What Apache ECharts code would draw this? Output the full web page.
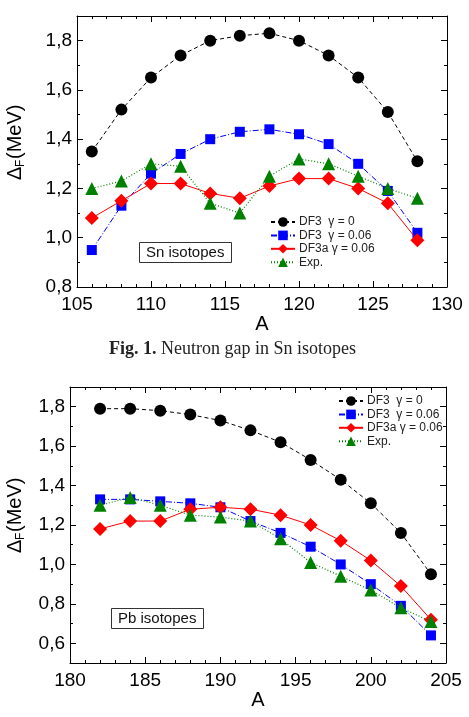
<!DOCTYPE html>
<html>
<head>
<meta charset="utf-8">
<script src="https://cdn.jsdelivr.net/npm/echarts@6/dist/echarts.min.js"></script>
<style>html,body{margin:0;padding:0;background:#fff}#c{width:469px;height:717px}</style>
</head>
<body>
<div id="c"></div>
<script>
// ---- data ----
const seriesNames = ['DF3  γ = 0', 'DF3  γ = 0.06', 'DF3a γ = 0.06', 'Exp.'];

const snA = [106, 108, 110, 112, 114, 116, 118, 120, 122, 124, 126, 128];
const snDF3g0   = [1.35, 1.52, 1.65, 1.74, 1.80, 1.82, 1.83, 1.80, 1.74, 1.65, 1.51, 1.31];
const snDF3g006 = [0.95, 1.13, 1.26, 1.34, 1.40, 1.43, 1.44, 1.42, 1.38, 1.30, 1.19, 1.02];
const snDF3a    = [1.08, 1.15, 1.22, 1.22, 1.18, 1.16, 1.21, 1.24, 1.24, 1.20, 1.14, 0.99];
const snExp     = [1.20, 1.23, 1.30, 1.29, 1.14, 1.10, 1.25, 1.32, 1.30, 1.25, 1.20, 1.16];

const pbA = [182, 184, 186, 188, 190, 192, 194, 196, 198, 200, 202, 204];
const pbDF3g0   = [1.79, 1.79, 1.78, 1.76, 1.73, 1.68, 1.62, 1.53, 1.43, 1.31, 1.16, 0.95];
const pbDF3g006 = [1.33, 1.33, 1.32, 1.31, 1.29, 1.22, 1.16, 1.09, 1.00, 0.90, 0.79, 0.64];
const pbDF3a    = [1.18, 1.22, 1.22, 1.28, 1.29, 1.28, 1.25, 1.20, 1.12, 1.02, 0.89, 0.72];
const pbExp     = [1.30, 1.34, 1.30, 1.25, 1.24, 1.22, 1.13, 1.01, 0.94, 0.87, 0.78, 0.71];

const snYTicks = [0.8, 1.0, 1.2, 1.4, 1.6, 1.8];
const pbYTicks = [0.6, 0.8, 1.0, 1.2, 1.4, 1.6, 1.8];

// ---- build ----
const FONT = 'Liberation Sans';
const zip = (xs, ys) => xs.map((x, i) => [x, ys[i]]);
const fmt = v => v.toFixed(1).replace('.', ',');

function xAxes(grid, min, max, name) {
  const base = {
    type: 'value', gridIndex: grid, min: min, max: max, interval: 5,
    splitLine: {show: false},
    axisLine: {show: true, onZero: false, lineStyle: {color: '#000', width: 1}},
    axisTick: {show: true, inside: true, length: 6, lineStyle: {color: '#000'}},
    minorTick: {show: true, splitNumber: 5, length: 3, lineStyle: {color: '#000'}}
  };
  return [
    Object.assign({}, base, {
      position: 'bottom', name: name, nameLocation: 'middle', nameGap: 24,
      nameTextStyle: {fontSize: 20, color: '#000', fontFamily: FONT},
      axisLabel: {show: true, fontSize: 19, color: '#000', fontFamily: FONT, margin: 8}
    }),
    Object.assign({}, base, {position: 'top', axisLabel: {show: false}})
  ];
}

function yAxes(grid, min, max, majors) {
  const common = {
    type: 'value', gridIndex: grid, min: min, max: max, interval: 0.1,
    splitLine: {show: false}
  };
  const out = [];
  ['left', 'right'].forEach(pos => {
    out.push(Object.assign({}, common, {
      position: pos,
      axisLine: {show: true, onZero: false, lineStyle: {color: '#000', width: 1}},
      axisTick: {show: true, inside: true, length: 6, customValues: majors, lineStyle: {color: '#000'}},
      axisLabel: pos === 'left'
        ? {show: true, customValues: majors, formatter: fmt, fontSize: 19, color: '#000', fontFamily: FONT, margin: 5}
        : {show: false}
    }));
    out.push(Object.assign({}, common, {
      position: pos,
      axisLine: {show: false},
      axisTick: {show: true, inside: true, length: 3, lineStyle: {color: '#000'}},
      axisLabel: {show: false}
    }));
  });
  return out;
}

const styles = [
  {color: '#000000', symbol: 'circle', size: 12, line: {type: [4, 3], width: 1}},
  {color: '#0000ff', symbol: 'rect', size: 10, line: {type: [6, 2, 1, 2], width: 1}},
  {color: '#ff0000', symbol: 'diamond', size: 14, line: {type: 'solid', width: 1}},
  {color: '#008000', symbol: 'triangle', size: 13, line: {type: [1, 2], width: 1.2}}
];

function makeSeries(grid, xs, ysList) {
  return ysList.map((ys, i) => ({
    type: 'line', name: seriesNames[i],
    xAxisIndex: grid * 2, yAxisIndex: grid * 4,
    data: zip(xs, ys),
    symbol: styles[i].symbol, symbolSize: styles[i].size,
    itemStyle: {color: styles[i].color},
    lineStyle: Object.assign({color: styles[i].color}, styles[i].line),
    animation: false, z: 2 + i
  }));
}

function legend(left, top) {
  return {
    data: seriesNames, orient: 'vertical', left: left, top: top, padding: 0,
    itemWidth: 24, itemHeight: 12, itemGap: 1.4, selectedMode: false,
    textStyle: {fontSize: 12, color: '#222', fontFamily: FONT, padding: [0, 0, 0, -1]}
  };
}

const boxTitle = (text, left, top) => ({
  text: text, left: left, top: top, padding: [3, 7],
  borderColor: '#333', borderWidth: 1,
  textStyle: {fontSize: 15, fontWeight: 'normal', color: '#111', fontFamily: FONT}
});

// rotated y-axis title: "Δ" + subscript "F" + "(MeV)", reading bottom-to-top
function yTitle(cx, cy) {
  const t = (x, y, text, size) => ({
    type: 'text', x: x, y: y,
    style: {text: text, fontSize: size, fontFamily: FONT, fill: '#000', align: 'left', verticalAlign: 'middle'}
  });
  return {
    type: 'group', x: cx, y: cy, rotation: Math.PI / 2, z: 100,
    children: [t(-40, 0, 'Δ', 20), t(-27, 6, 'F', 12), t(-19, 0, '(MeV)', 20)]
  };
}

const option = {
  backgroundColor: '#fff',
  animation: false,
  grid: [
    {left: 77, width: 370, top: 16, height: 271, containLabel: false, outerBoundsMode: 'none'},
    {left: 70, width: 376, top: 387, height: 276, containLabel: false, outerBoundsMode: 'none'}
  ],
  xAxis: [].concat(xAxes(0, 105, 130, 'A'), xAxes(1, 180, 205, 'A')),
  yAxis: [].concat(yAxes(0, 0.8, 1.9, snYTicks), yAxes(1, 0.5, 1.9, pbYTicks)),
  legend: [legend(270, 216), legend(338, 395)],
  title: [
    boxTitle('Sn isotopes', 139, 242),
    boxTitle('Pb isotopes', 111, 608),
    {
      text: '{b|Fig. 1.} Neutron gap in Sn isotopes', left: 109, top: 340, padding: 0,
      textStyle: {
        fontSize: 18, fontWeight: 'normal', color: '#222', fontFamily: 'Liberation Serif',
        rich: {b: {fontSize: 18, fontWeight: 'bold', color: '#222', fontFamily: 'Liberation Serif'}}
      }
    }
  ],
  graphic: [yTitle(15, 140), yTitle(15, 513)],
  series: [].concat(
    makeSeries(0, snA, [snDF3g0, snDF3g006, snDF3a, snExp]),
    makeSeries(1, pbA, [pbDF3g0, pbDF3g006, pbDF3a, pbExp])
  )
};

const chart = echarts.init(document.getElementById('c'), null, {renderer: 'canvas'});
chart.setOption(option);
</script>
</body>
</html>
